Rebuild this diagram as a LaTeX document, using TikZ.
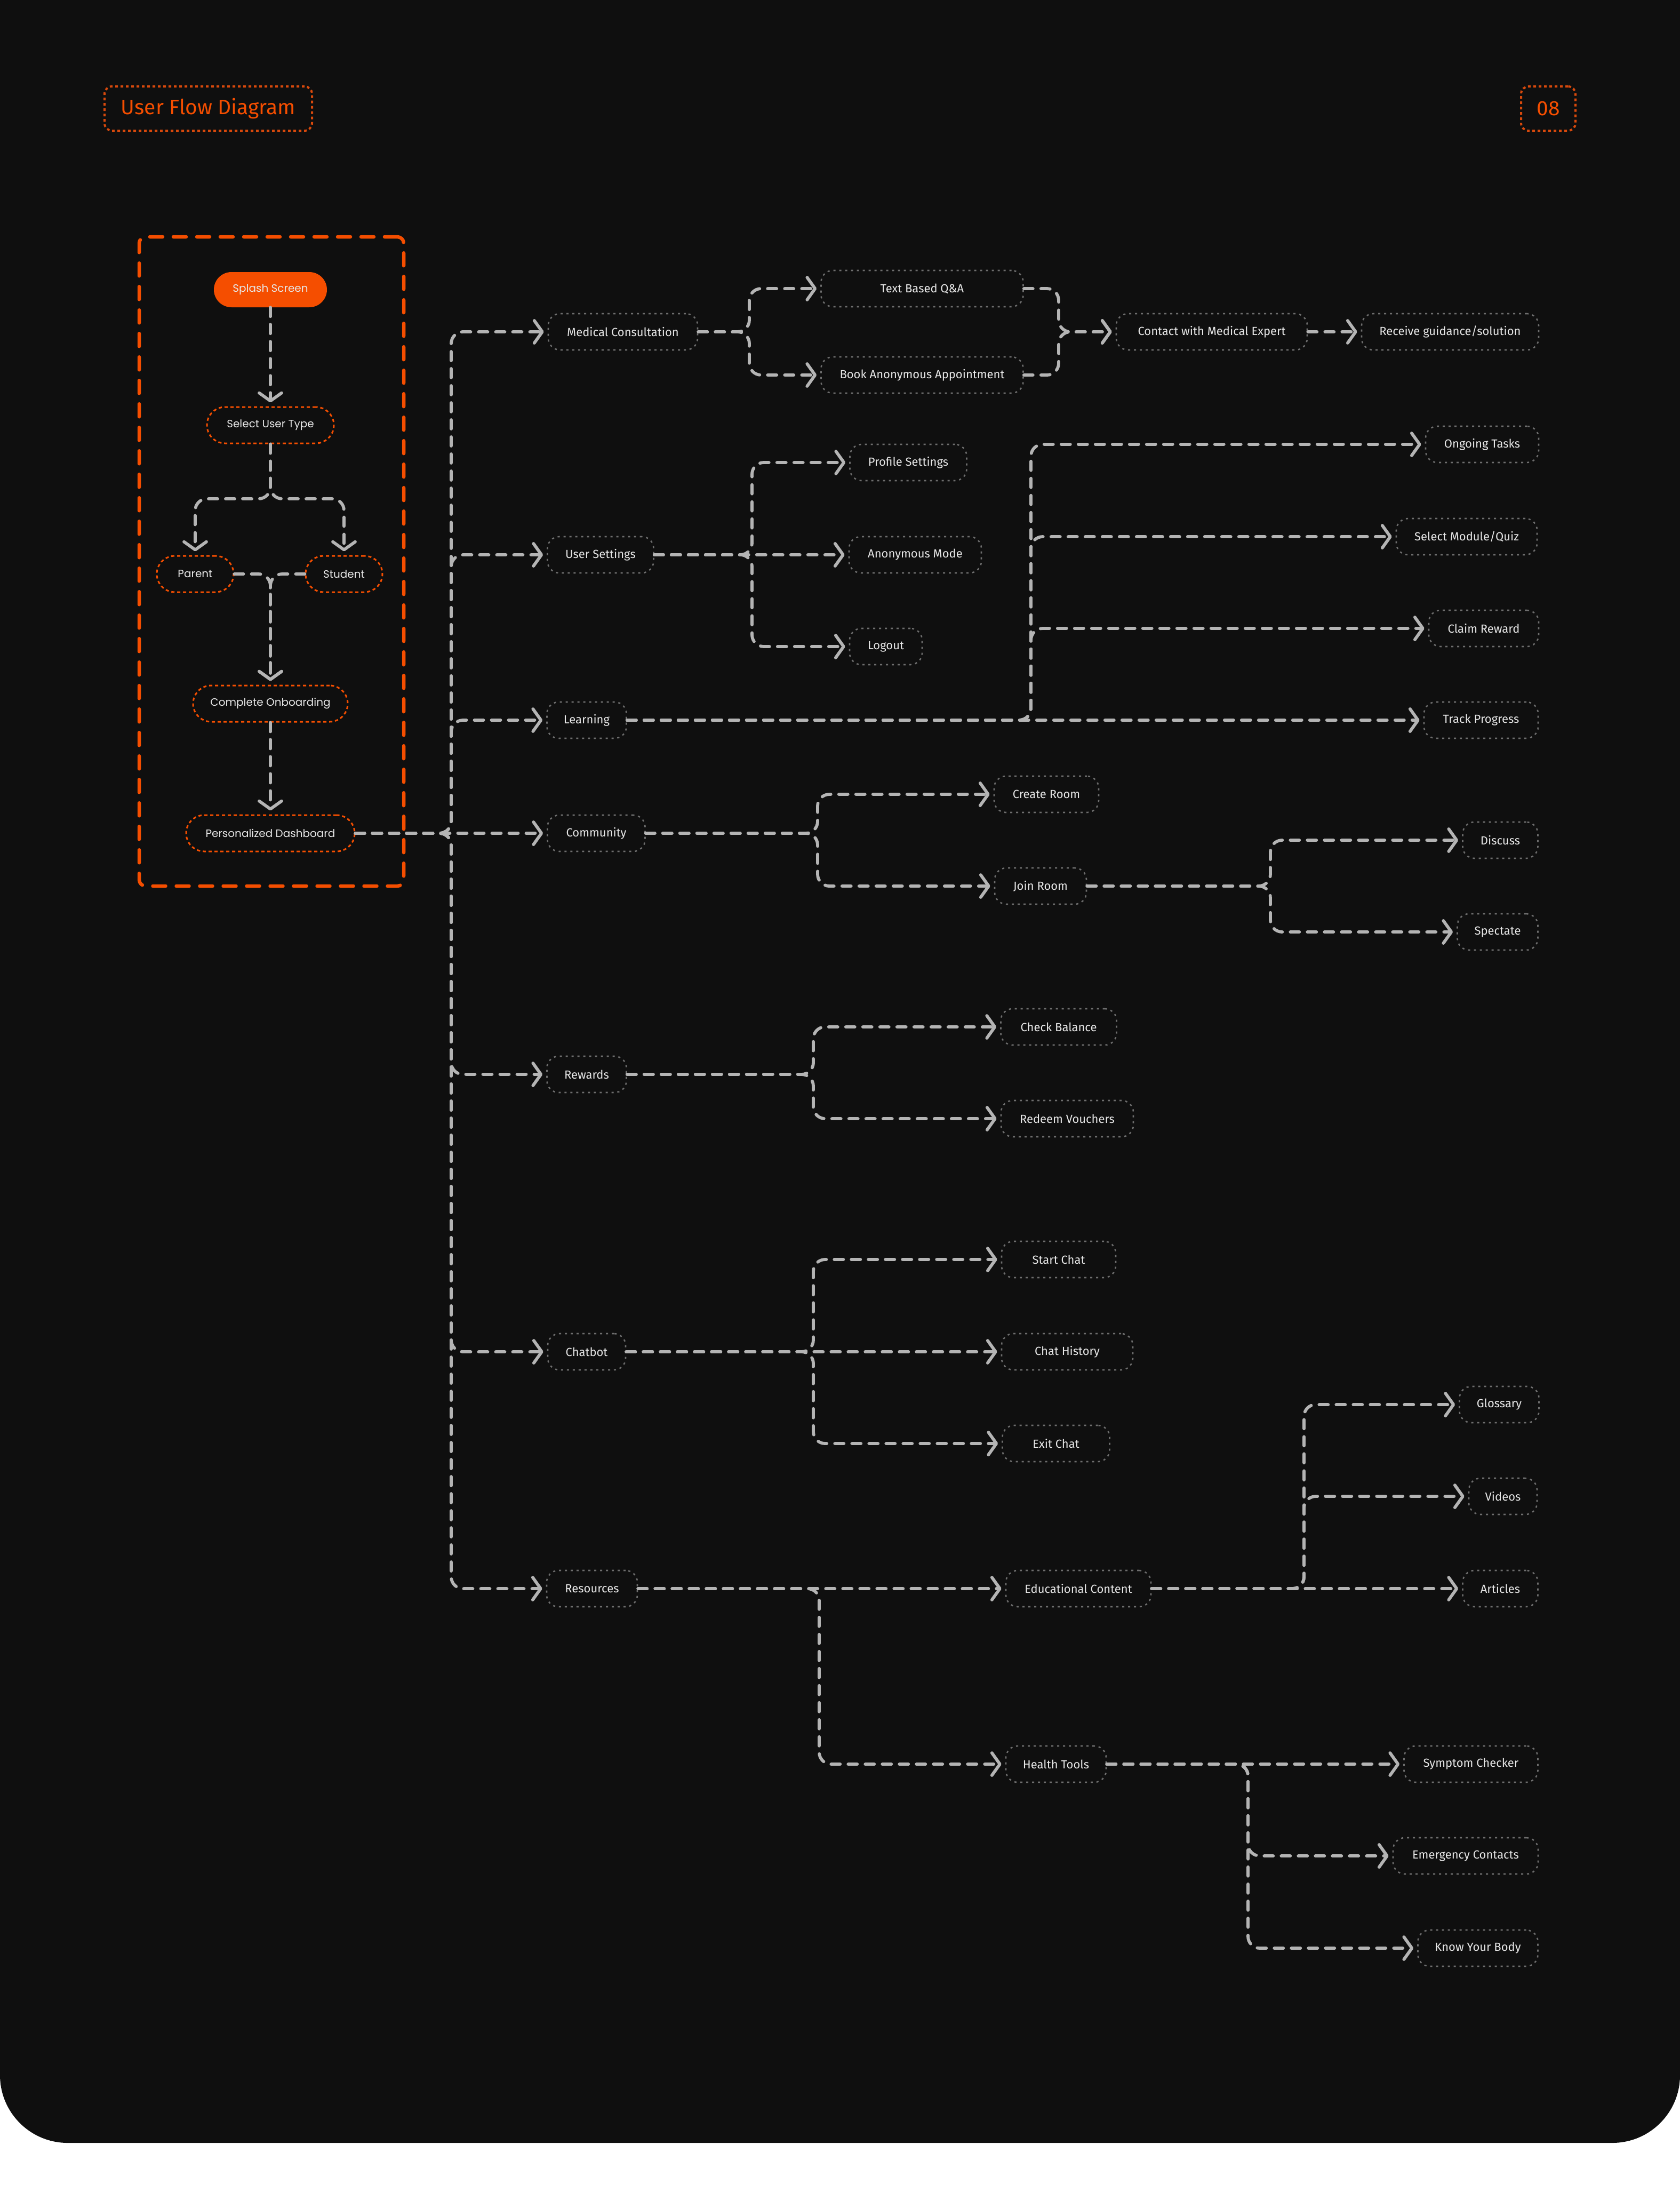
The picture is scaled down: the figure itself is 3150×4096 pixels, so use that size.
\documentclass[tikz,border=0pt]{standalone}
\usepackage{fontspec}
\setmainfont{Fira Sans}
\newfontfamily\leftfont{Poppins}
\usetikzlibrary{arrows.meta}
\definecolor{bg}{HTML}{0F0F0F}
\definecolor{org}{HTML}{F54E00}
\definecolor{orgd}{HTML}{D8490C}
\definecolor{cgrey}{HTML}{B4B4B4}
\definecolor{ngrey}{HTML}{6E6E6E}
\definecolor{ntext}{HTML}{E8E8E8}
\begin{document}
\begin{tikzpicture}[x=1pt,y=-1pt,
 conn/.style={draw=cgrey, line width=5.8pt, dash pattern=on 17pt off 15pt, line cap=round, rounded corners=22pt,
   -{Straight Barb[length=15pt,width=42pt,line width=5.8pt,round]}, shorten >=7pt},
 rnode/.style={draw=ngrey, line width=2.6pt, dash pattern=on 4pt off 7pt, rounded corners=22pt,
   minimum height=68pt, text=ntext, font=\fontsize{22}{26}\selectfont, inner sep=0pt, minimum width=#1},
 lnode/.style={draw=org, line width=3pt, dash pattern=on 6pt off 5pt, rounded corners=34pt,
   minimum height=68pt, text=ntext, font=\leftfont\fontsize{20}{23}\selectfont, inner sep=0pt, minimum width=#1},
 splashnode/.style={fill=org, rounded corners=33pt, minimum height=66pt, text=ntext,
   font=\leftfont\fontsize{20}{23}\selectfont, inner sep=0pt, minimum width=#1},
 titlebox/.style={draw=orgd, line width=4pt, dash pattern=on 5pt off 5pt, rounded corners=14pt,
   text=org, font=\fontsize{39}{44}\selectfont, inner sep=0pt},
 panel/.style={draw=org, line width=6.5pt, dash pattern=on 24pt off 20pt, line cap=round, rounded corners=12pt, inner sep=0pt},
]
\useasboundingbox (0,0) rectangle (3150,4096);
\fill[white] (0,0) rectangle (3150,4096);
\fill[bg, rounded corners=127pt] (0,-400) rectangle (3150,4017);

% header
\node[titlebox, minimum width=389pt, minimum height=83pt] (title) at (390.5,203.5) {User Flow Diagram};
\node[titlebox, minimum width=102pt, minimum height=83pt] (page) at (2903,203.5) {08};

% left panel
\node[panel, minimum width=496pt, minimum height=1217pt] (frame) at (509,1052.5) {};
\node[splashnode=212pt] (splash) at (507,543) {Splash Screen};
\node[lnode=238pt] (sut) at (507,797) {Select User Type};
\node[lnode=144pt] (parent) at (366,1076) {Parent};
\node[lnode=144pt] (student) at (645,1076) {Student};
\node[lnode=290pt] (co) at (507,1319) {Complete Onboarding};
\node[lnode=316pt] (dash) at (507,1562) {Personalized Dashboard};

\coordinate (j1) at (507,935);
\draw[conn] (splash) -- (sut);
\draw[conn] (sut.south) -- (j1) -- (j1 -| parent) -- (parent.north);
\draw[conn] (sut.south) -- (j1) -- (j1 -| student) -- (student.north);
\draw[conn] (parent.east) -- (parent.east -| co) -- (co.north);
\draw[conn] (student.west) -- (student.west -| co) -- (co.north);
\draw[conn] (co) -- (dash);

% level 1
\node[rnode=280pt] (mc) at (1168,622) {Medical Consultation};
\node[rnode=199pt] (us) at (1126,1040) {User Settings};
\node[rnode=149pt] (learn) at (1100,1350) {Learning};
\node[rnode=183pt] (comm) at (1118,1562) {Community};
\node[rnode=149pt] (rew) at (1100,2014) {Rewards};
\node[rnode=146pt] (chat) at (1100,2534) {Chatbot};
\node[rnode=170pt] (res) at (1110,2978) {Resources};

% medical
\node[rnode=379pt] (tqa) at (1729,541) {Text Based Q\&A};
\node[rnode=379pt] (baa) at (1729,703) {Book Anonymous Appointment};
\node[rnode=358pt] (cme) at (2272,622) {Contact with Medical Expert};
\node[rnode=332pt] (rgs) at (2719,622) {Receive guidance/solution};
% settings
\node[rnode=219pt] (ps) at (1703,867) {Profile Settings};
\node[rnode=248pt] (am) at (1716,1040) {Anonymous Mode};
\node[rnode=136pt] (lo) at (1661,1212) {Logout};
% learning
\node[rnode=212pt] (ot) at (2779,833) {Ongoing Tasks};
\node[rnode=264pt] (smq) at (2750,1006) {Select Module/Quiz};
\node[rnode=206pt] (clr) at (2782,1178) {Claim Reward};
\node[rnode=214pt] (tp) at (2777,1350) {Track Progress};
% community
\node[rnode=196pt] (cr) at (1962,1489) {Create Room};
\node[rnode=172pt] (jr) at (1951,1661) {Join Room};
\node[rnode=141pt] (disc) at (2813,1575) {Discuss};
\node[rnode=151pt] (spec) at (2808,1747) {Spectate};
% rewards
\node[rnode=217pt] (cb) at (1985,1925) {Check Balance};
\node[rnode=248pt] (rv) at (2001,2097) {Redeem Vouchers};
% chatbot
\node[rnode=214pt] (sc) at (1985,2361) {Start Chat};
\node[rnode=246pt] (chh) at (2001,2534) {Chat History};
\node[rnode=201pt] (ec) at (1980,2706) {Exit Chat};
% resources
\node[rnode=272pt] (edu) at (2022,2978) {Educational Content};
\node[rnode=188pt] (ht) at (1980,3307) {Health Tools};
\node[rnode=149pt] (gl) at (2811,2633) {Glossary};
\node[rnode=128pt] (vid) at (2818,2805) {Videos};
\node[rnode=141pt] (art) at (2813,2978) {Articles};
\node[rnode=251pt] (sym) at (2758,3307) {Symptom Checker};
\node[rnode=272pt] (emc) at (2748,3479) {Emergency Contacts};
\node[rnode=225pt] (kyb) at (2771,3652) {Know Your Body};

% trunk
\coordinate (tr) at (846,1562);
\foreach \b in {mc,us,learn,rew,chat,res}{
  \draw[conn] (dash.east) -- (tr) -- (tr |- \b) -- (\b.west);
}
\draw[conn] (dash.east) -- (comm.west);

% medical
\coordinate (s1) at (1405,622);
\coordinate (m1) at (1985,622);
\draw[conn] (mc.east) -- (s1) -- (s1 |- tqa) -- (tqa.west);
\draw[conn] (mc.east) -- (s1) -- (s1 |- baa) -- (baa.west);
\draw[conn] (tqa.east) -- (tqa.east -| m1) -- (m1) -- (cme.west);
\draw[conn] (baa.east) -- (baa.east -| m1) -- (m1) -- (cme.west);
\draw[conn] (cme) -- (rgs);

% settings
\coordinate (s2) at (1410,1040);
\draw[conn] (us) -- (am);
\foreach \b in {ps,lo}{
  \draw[conn] (us.east) -- (s2) -- (s2 |- \b) -- (\b.west);
}

% learning
\coordinate (s3) at (1933,1350);
\draw[conn] (learn) -- (tp);
\foreach \b in {ot,smq,clr}{
  \draw[conn] (learn.east) -- (s3) -- (s3 |- \b) -- (\b.west);
}

% community
\coordinate (s4) at (1533,1562);
\foreach \b in {cr,jr}{
  \draw[conn] (comm.east) -- (s4) -- (s4 |- \b) -- (\b.west);
}
\coordinate (s5) at (2382,1661);
\foreach \b in {disc,spec}{
  \draw[conn] (jr.east) -- (s5) -- (s5 |- \b) -- (\b.west);
}

% rewards
\coordinate (s6) at (1525,2014);
\foreach \b in {cb,rv}{
  \draw[conn] (rew.east) -- (s6) -- (s6 |- \b) -- (\b.west);
}

% chatbot
\coordinate (s7) at (1525,2534);
\draw[conn] (chat) -- (chh);
\foreach \b in {sc,ec}{
  \draw[conn] (chat.east) -- (s7) -- (s7 |- \b) -- (\b.west);
}

% resources
\coordinate (s8) at (1536,2978);
\draw[conn] (res) -- (edu);
\draw[conn] (res.east) -- (s8) -- (s8 |- ht) -- (ht.west);
\coordinate (s9) at (2445,2978);
\draw[conn] (edu) -- (art);
\foreach \b in {gl,vid}{
  \draw[conn] (edu.east) -- (s9) -- (s9 |- \b) -- (\b.west);
}
\coordinate (s10) at (2340,3307);
\draw[conn] (ht) -- (sym);
\foreach \b in {emc,kyb}{
  \draw[conn] (ht.east) -- (s10) -- (s10 |- \b) -- (\b.west);
}
\end{tikzpicture}
\end{document}
